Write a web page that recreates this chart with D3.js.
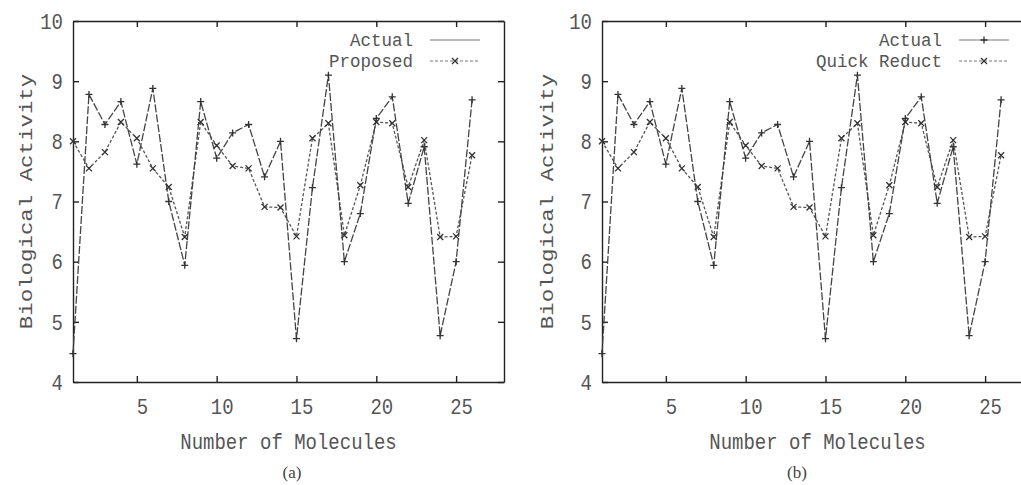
<!DOCTYPE html>
<html>
<head>
<meta charset="utf-8">
<script src="https://cdn.jsdelivr.net/npm/d3@7"></script>
<style>
  html, body { margin: 0; padding: 0; background: #fff; }
  svg { display: block; }
  .axis path, .axis line { stroke: #222; stroke-width: 1.4; }
  .axis text { font-family: "Liberation Mono", "DejaVu Sans Mono", monospace; font-size: 19px; fill: #555; }
  .lbl { font-family: "Liberation Mono", "DejaVu Sans Mono", monospace; font-size: 19px; fill: #555; }
  .leg { font-family: "Liberation Mono", "DejaVu Sans Mono", monospace; font-size: 17.5px; fill: #555; }
  .cap { font-family: "Liberation Serif", serif; font-size: 17px; fill: #444; }
  .actual { fill: none; stroke: #444; stroke-width: 1.3; stroke-dasharray: 8 2; }
  .pred { fill: none; stroke: #555; stroke-width: 1.3; stroke-dasharray: 3 2; }
  .mk { fill: none; stroke: #333; stroke-width: 1.3; }
</style>
</head>
<body>
<div id="chart"></div>
<script>
// data
const molecules = [1, 2, 3, 4, 5, 6, 7, 8, 9, 10, 11, 12, 13, 14, 15, 16, 17, 18, 19, 20, 21, 22, 23, 24, 25, 26];
const actual = [4.47, 8.78, 8.28, 8.66, 7.62, 8.88, 7.0, 5.94, 8.66, 7.72, 8.14, 8.28, 7.41, 8.0,
                4.72, 7.23, 9.1, 6.0, 6.8, 8.38, 8.74, 6.97, 7.91, 4.77, 6.0, 8.69];
const proposed = [8.0, 7.55, 7.82, 8.32, 8.05, 7.55, 7.24, 6.41, 8.32, 7.93, 7.59, 7.55, 6.91, 6.9,
                  6.42, 8.05, 8.3, 6.44, 7.27, 8.32, 8.3, 7.24, 8.02, 6.41, 6.42, 7.77];
const quickReduct = [8.0, 7.55, 7.82, 8.32, 8.05, 7.55, 7.24, 6.41, 8.32, 7.93, 7.59, 7.55, 6.91, 6.9,
                     6.42, 8.05, 8.3, 6.44, 7.27, 8.32, 8.3, 7.24, 8.02, 6.41, 6.42, 7.77];
const xTicks = [5, 10, 15, 20, 25];
const yTicks = [4, 5, 6, 7, 8, 9, 10];

const W = 1021, H = 485;
const TOP = 21, BOTTOM = 382, PW = 431;
const SY = 1.2; // the scanned figure is stretched vertically

const svg = d3.select("#chart").append("svg")
  .attr("width", W).attr("height", H);

const plusPath = "M-3.5,0H3.5M0,-3.5V3.5";
const crossPath = "M-3,-3L3,3M-3,3L3,-3";

function panel(opt) {
  const left = opt.left;
  const x = d3.scaleLinear().domain([1, 28]).range([left, left + PW]);
  const y = d3.scaleLinear().domain([4, 10]).range([BOTTOM, TOP]);

  const g = svg.append("g");

  // frame + inward ticks on all four sides
  const bx = g.append("g").attr("class", "axis")
    .attr("transform", `translate(0,${BOTTOM})`)
    .call(d3.axisBottom(x).tickValues(xTicks).tickSizeInner(-6).tickSizeOuter(0).tickFormat(d3.format("d")));
  bx.selectAll("text")
    .attr("y", 24 / SY).attr("dy", "0.35em").attr("dx", 5)
    .attr("transform", `scale(1,${SY})`);

  g.append("g").attr("class", "axis")
    .attr("transform", `translate(0,${TOP})`)
    .call(d3.axisTop(x).tickValues(xTicks).tickSizeInner(-6).tickSizeOuter(0).tickFormat(""));

  const ly = g.append("g").attr("class", "axis")
    .attr("transform", `translate(${x(1)},0)`)
    .call(d3.axisLeft(y).tickValues(yTicks).tickSizeInner(-6).tickSizeOuter(0).tickPadding(10)
      .tickFormat(d3.format("d")));
  ly.selectAll("text").attr("transform", `scale(1,${SY})`);

  g.append("g").attr("class", "axis")
    .attr("transform", `translate(${x(28)},0)`)
    .call(d3.axisRight(y).tickValues(yTicks).tickSizeInner(-6).tickSizeOuter(0).tickFormat(""));

  // axis titles
  g.append("text").attr("class", "lbl")
    .attr("text-anchor", "middle")
    .attr("transform", `translate(${(x(1) + x(28)) / 2},441) scale(1,${SY})`)
    .attr("dy", "0.35em")
    .text("Number of Molecules");
  g.append("text").attr("class", "lbl")
    .attr("text-anchor", "middle")
    .attr("transform", `translate(${opt.yLabelX},${(TOP + BOTTOM) / 2}) scale(1,1.18) rotate(-90)`)
    .attr("dy", "0.35em")
    .text("Biological Activity");
  g.append("text").attr("class", "cap")
    .attr("text-anchor", "middle")
    .attr("x", opt.capX).attr("y", 472)
    .attr("dy", "0.35em")
    .text(opt.caption);

  const rows = molecules.map((m, i) => ({ m, a: actual[i], p: opt.values[i] }));

  const lineA = d3.line().x(d => x(d.m)).y(d => y(d.a));
  const lineP = d3.line().x(d => x(d.m)).y(d => y(d.p));

  g.append("path").datum(rows).attr("class", "pred").attr("d", lineP);
  g.append("path").datum(rows).attr("class", "actual").attr("d", lineA);

  g.append("g").selectAll("path").data(rows).join("path")
    .attr("class", "mk").attr("d", crossPath)
    .attr("transform", d => `translate(${x(d.m)},${y(d.p)})`);
  g.append("g").selectAll("path").data(rows).join("path")
    .attr("class", "mk").attr("d", plusPath)
    .attr("transform", d => `translate(${x(d.m)},${y(d.a)})`);

  // legend
  const lx = left + 340;
  const legend = [
    { name: "Actual", cls: "actual", mk: plusPath, showMk: opt.actualLegendMarker, yy: 40 },
    { name: opt.name, cls: "pred", mk: crossPath, showMk: true, yy: 61 }
  ];
  legend.forEach(e => {
    g.append("text").attr("class", "leg")
      .attr("text-anchor", "end")
      .attr("x", lx).attr("y", e.yy)
      .attr("dy", "0.35em")
      .text(e.name);
    g.append("line")
      .attr("x1", lx + 17).attr("x2", lx + 67)
      .attr("y1", e.yy).attr("y2", e.yy)
      .attr("stroke", "#777").attr("stroke-width", 1.2)
      .attr("stroke-dasharray", e.cls === "pred" ? "3 2" : null);
    if (e.showMk) {
      g.append("path").attr("class", "mk").attr("d", e.mk)
        .attr("stroke", "#666")
        .attr("transform", `translate(${lx + 42},${e.yy})`);
    }
  });
}

panel({ left: 73, values: proposed, name: "Proposed", caption: "(a)", capX: 292, yLabelX: 25, actualLegendMarker: false });
panel({ left: 602, values: quickReduct, name: "Quick Reduct", caption: "(b)", capX: 797, yLabelX: 546, actualLegendMarker: true });
</script>
</body>
</html>
